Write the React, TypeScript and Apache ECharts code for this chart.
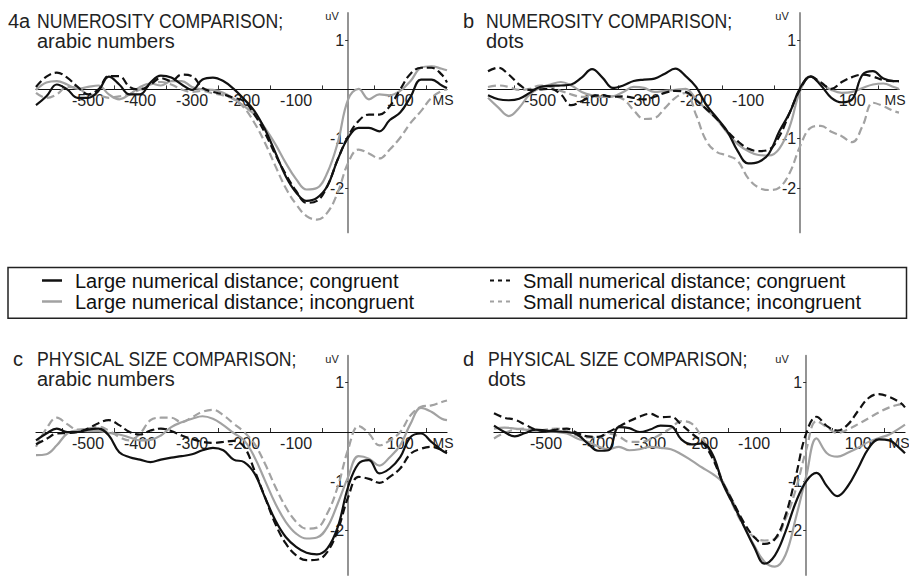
import React, { useEffect, useRef } from "react";
import * as echarts from "echarts";

// Time axis (ms, stimulus-locked) shared by every waveform
const TIME_MS = [
  -600, -580, -560, -540, -520, -500, -480, -460, -440, -420, -400, -380, -360, -340,
  -320, -300, -280, -260, -240, -220, -200, -180, -160, -140, -120, -100, -80, -60,
  -40, -20, 0, 20, 40, 60, 80, 100, 120, 140, 160, 180, 190,
];

// Condition names
const LC = "Large numerical distance; congruent";
const LI = "Large numerical distance; incongruent";
const SC = "Small numerical distance; congruent";
const SI = "Small numerical distance; incongruent";

// Axis ticks and labels
const X_LABELS = [-500, -400, -300, -200, -100, 100];
const X_TICKS = [-550, -450, -350, -250, -150, -50, 50, 150];
const Y_LABELS = [-2, -1, 1];

// a: numerosity comparison, arabic numbers (uV)
const aLC = [-0.32, -0.14, 0.1, 0, -0.17, -0.17, -0.03, 0.26, 0.1, -0.1, -0.1, 0.14, 0.28, 0.24, 0.1, -0.01, 0.2, 0.24, 0.17, 0.01, -0.2, -0.44, -0.81, -1.28, -1.76, -2.09, -2.26, -2.2, -1.96, -1.42, -0.98, -0.78, -0.78, -0.85, -0.62, -0.47, -0.15, 0.2, 0.2, 0.08, 0.03];
const aLI = [-0.01, 0.14, 0.17, 0.1, 0.01, 0.05, 0.08, -0.1, -0.2, -0.1, 0.05, 0.12, 0.08, 0.17, 0.17, 0.05, 0, -0.01, -0.07, -0.19, -0.34, -0.51, -0.78, -1.11, -1.49, -1.82, -2.03, -2.0, -1.69, -1.08, -0.2, 0.01, -0.2, -0.1, -0.12, -0.03, 0.17, 0.44, 0.47, 0.42, 0.39];
const aSC = [0.05, 0.26, 0.34, 0.24, 0.05, -0.1, 0, 0.27, 0.27, 0.05, 0, 0.1, 0.23, 0.17, 0.3, 0.27, 0.03, -0.05, -0.1, -0.17, -0.24, -0.51, -0.88, -1.32, -1.72, -2.06, -2.3, -2.26, -1.96, -1.42, -0.95, -0.64, -0.51, -0.51, -0.34, 0, 0.32, 0.44, 0.44, 0.3, 0.14];
const aSI = [-0.07, -0.17, -0.1, 0.05, 0.03, -0.1, -0.12, -0.17, -0.14, -0.1, 0, 0.1, 0.15, 0.1, 0, -0.05, -0.03, -0.08, -0.12, -0.2, -0.37, -0.68, -1.08, -1.55, -2.0, -2.33, -2.57, -2.64, -2.5, -2.09, -1.49, -1.22, -1.3, -1.4, -1.22, -0.98, -0.68, -0.44, -0.17, -0.03, 0];

// b: numerosity comparison, dots
const bLC = [-0.12, -0.2, -0.22, -0.19, -0.07, 0.05, 0.07, 0.08, 0.1, 0.24, 0.41, 0.24, 0.03, 0.08, 0.17, 0.2, 0.22, 0.32, 0.42, 0.27, 0.05, -0.32, -0.58, -0.85, -1.25, -1.5, -1.47, -1.3, -0.85, -0.47, 0.03, 0.26, 0.08, -0.17, -0.26, -0.2, 0.3, 0.37, 0.22, 0.17, 0.17];
const bLI = [-0.17, -0.37, -0.54, -0.37, -0.1, 0.03, 0.1, 0.15, 0.08, -0.05, -0.12, -0.15, -0.14, -0.05, 0.05, 0.03, -0.05, -0.03, -0.01, 0.01, -0.2, -0.41, -0.61, -0.88, -1.11, -1.25, -1.33, -1.34, -1.2, -0.75, -0.03, 0.27, 0.12, -0.01, -0.07, -0.05, 0.03, 0.1, 0.12, 0.05, 0.01];
const bSC = [0.37, 0.44, 0.3, 0.1, -0.01, 0, 0.01, -0.1, -0.32, -0.24, -0.14, -0.12, -0.15, -0.14, -0.17, -0.2, -0.15, -0.07, -0.03, -0.05, -0.22, -0.4, -0.6, -0.85, -1.05, -1.2, -1.25, -1.22, -0.95, -0.47, 0, 0.26, 0.14, 0.01, 0.15, 0.25, 0.3, 0.26, 0.19, 0.17, 0.17];
const bSI = [0.05, 0.08, 0.05, -0.01, 0.01, 0.08, 0.05, -0.03, -0.1, -0.15, -0.14, -0.15, -0.14, -0.2, -0.42, -0.6, -0.58, -0.38, -0.17, -0.07, -0.52, -1.05, -1.27, -1.34, -1.45, -1.8, -1.99, -2.04, -1.99, -1.69, -1.15, -0.78, -0.74, -0.86, -0.95, -1.07, -0.74, -0.27, -0.34, -0.44, -0.47];

// c: physical size comparison, arabic numbers
const cLC = [-0.17, -0.03, 0.07, 0, 0, 0.05, 0.07, -0.07, -0.41, -0.51, -0.56, -0.61, -0.56, -0.52, -0.49, -0.45, -0.37, -0.32, -0.37, -0.56, -0.61, -0.84, -1.32, -1.79, -2.13, -2.33, -2.45, -2.48, -2.36, -1.93, -1.11, -0.64, -0.57, -0.84, -0.74, -0.51, -0.1, -0.03, -0.2, -0.37, -0.43];
const cLI = [-0.47, -0.45, -0.27, -0.03, 0.03, 0.02, 0.02, -0.02, -0.05, -0.11, -0.17, -0.16, -0.07, 0.1, 0.2, 0.27, 0.32, 0.27, 0.14, -0.02, -0.17, -0.51, -0.98, -1.45, -1.82, -2.06, -2.16, -2.14, -1.93, -1.45, -0.91, -0.49, -0.54, -0.68, -0.51, -0.27, 0.17, 0.49, 0.41, 0.27, 0.24];
const cSC = [-0.25, -0.14, -0.03, -0.02, 0, 0.07, 0.18, 0.24, 0.14, 0, -0.05, 0.03, 0.07, 0.02, -0.07, -0.14, -0.2, -0.22, -0.2, -0.18, -0.3, -0.78, -1.32, -1.86, -2.26, -2.5, -2.6, -2.59, -2.43, -1.99, -1.32, -0.91, -0.95, -1.03, -0.91, -0.74, -0.44, -0.34, -0.3, -0.36, -0.39];
const cSI = [-0.3, 0.07, 0.29, 0.16, 0.05, 0.07, 0.11, 0.03, -0.1, -0.17, -0.03, 0.24, 0.29, 0.29, 0.2, 0.3, 0.41, 0.45, 0.34, 0.17, 0, -0.24, -0.64, -1.11, -1.52, -1.82, -1.96, -1.94, -1.65, -1.11, -0.35, 0.12, -0.03, -0.27, -0.17, 0, 0.34, 0.51, 0.54, 0.61, 0.64];

// d: physical size comparison, dots
const dLC = [0.13, 0, -0.09, -0.02, 0.05, 0.03, 0.01, 0, -0.05, -0.23, -0.38, -0.37, 0.1, 0.08, 0, 0.05, 0.13, 0.12, -0.15, -0.25, -0.23, -0.45, -1.05, -1.47, -1.9, -2.33, -2.67, -2.5, -2.03, -1.43, -1.0, -0.83, -1.1, -1.3, -1.1, -0.73, -0.33, -0.15, -0.17, -0.33, -0.43];
const dLI = [0.07, 0.09, 0.07, 0.05, 0.03, 0.02, 0, -0.03, -0.13, -0.2, -0.29, -0.35, -0.3, -0.37, -0.35, -0.3, -0.32, -0.35, -0.45, -0.58, -0.72, -0.85, -1.03, -1.43, -1.9, -2.3, -2.63, -2.73, -2.5, -1.75, -0.9, -0.13, -0.43, -0.5, -0.42, -0.32, -0.2, -0.12, -0.05, 0.08, 0.15];
const dSC = [0.38, 0.29, 0.25, 0.15, 0.05, 0.02, 0.05, 0.07, -0.02, -0.09, -0.1, 0, 0.11, 0.22, 0.31, 0.37, 0.3, 0.31, 0.15, -0.03, -0.2, -0.53, -1.03, -1.43, -1.83, -2.13, -2.27, -2.17, -1.7, -0.9, -0.03, 0.31, 0.12, 0.03, 0.15, 0.43, 0.69, 0.77, 0.71, 0.6, 0.5];
const dSI = [-0.13, -0.02, 0.05, 0.07, 0.03, 0.05, 0.07, 0.02, -0.07, -0.11, -0.11, -0.03, -0.09, -0.2, -0.2, -0.15, -0.05, 0.08, 0.22, 0.17, -0.12, -0.5, -1.0, -1.5, -1.9, -2.13, -2.2, -2.17, -1.77, -1.17, -0.37, 0.22, 0.1, -0.02, 0.05, 0.16, 0.28, 0.4, 0.5, 0.56, 0.58];

const PANELS = [
  { prefix: "4a", title: "NUMEROSITY COMPARISON;", sub: "arabic numbers", LC: aLC, LI: aLI, SC: aSC, SI: aSI },
  { prefix: "b", title: "NUMEROSITY COMPARISON;", sub: "dots", LC: bLC, LI: bLI, SC: bSC, SI: bSI },
  { prefix: "c", title: "PHYSICAL SIZE COMPARISON;", sub: "arabic numbers", LC: cLC, LI: cLI, SC: cSC, SI: cSI },
  { prefix: "d", title: "PHYSICAL SIZE COMPARISON;", sub: "dots", LC: dLC, LI: dLI, SC: dSC, SI: dSI },
];

const FONT = '"Liberation Sans", Arial, sans-serif';
const BLACK = "#111111";
const GRAY = "#a2a2a2";
const DASH = [8, 4];

// Panel frames (pixels) and where their labels sit
const GRID_W = 411;
const GRID_H = 219.4;
const FRAMES = [
  { left: 36, top: 13, prefixX: 8, titleX: 37, titleY: 21, uvX: 332, msX: 443 },
  { left: 488, top: 13, prefixX: 463, titleX: 486, titleY: 21, uvX: 782, msX: 895 },
  { left: 36, top: 355.6, prefixX: 13, titleX: 37, titleY: 359, uvX: 332, msX: 443 },
  { left: 494, top: 355.6, prefixX: 463, titleX: 488, titleY: 359, uvX: 782, msX: 899 },
];
const X_MIN = -600;
const X_MAX = 190;
const Y_MIN = -2.9;
const Y_MAX = 1.55;

// Shift the axes from the frame edges onto the zero lines
const X_AXIS_SHIFT = -GRID_H * (0 - Y_MIN) / (Y_MAX - Y_MIN);
const Y_AXIS_SHIFT = -GRID_W * (0 - X_MIN) / (X_MAX - X_MIN);
const ZERO_Y = GRID_H * (Y_MAX - 0) / (Y_MAX - Y_MIN);

// Legend swatches
const SOLID_ICON = "rect";
const DOTTED_ICON = "path://M0,0h4v2h-4z M8,0h4v2h-4z M16,0h4v2h-4z";

function pairs(vals: number[]) {
  return TIME_MS.map((t, k) => [t, vals[k]]);
}

function buildOption() {
  const grid: any[] = [];
  const xAxis: any[] = [];
  const yAxis: any[] = [];
  const series: any[] = [];
  const graphic: any[] = [];

  PANELS.forEach((p, i) => {
    const f = FRAMES[i];
    grid.push({ left: f.left, top: f.top, width: GRID_W, height: GRID_H });
    xAxis.push({
      type: "value",
      gridIndex: i,
      min: X_MIN,
      max: X_MAX,
      position: "bottom",
      offset: X_AXIS_SHIFT,
      axisLine: { onZero: false, lineStyle: { color: "#111", width: 1.2 } },
      axisTick: { show: true, inside: true, length: 4, customValues: X_TICKS, lineStyle: { color: "#333", width: 1 } },
      axisLabel: { customValues: X_LABELS, margin: 3, fontSize: 16, fontFamily: FONT, color: "#222" },
      splitLine: { show: false },
    });
    yAxis.push({
      type: "value",
      gridIndex: i,
      min: Y_MIN,
      max: Y_MAX,
      position: "left",
      offset: Y_AXIS_SHIFT,
      axisLine: { show: true, onZero: false, lineStyle: { color: "#888", width: 1.8 } },
      axisTick: { show: true, length: 3, customValues: Y_LABELS, lineStyle: { color: "#333", width: 1 } },
      axisLabel: { customValues: Y_LABELS, margin: 4, fontSize: 16, fontFamily: FONT, color: "#222" },
      splitLine: { show: false },
    });

    const lines = [
      { name: SI, vals: p.SI, color: GRAY, type: DASH, z: 2 },
      { name: LI, vals: p.LI, color: GRAY, type: "solid", z: 3 },
      { name: SC, vals: p.SC, color: BLACK, type: DASH, z: 4 },
      { name: LC, vals: p.LC, color: BLACK, type: "solid", z: 5 },
    ];
    lines.forEach((l) => {
      series.push({
        type: "line",
        name: l.name,
        xAxisIndex: i,
        yAxisIndex: i,
        data: pairs(l.vals),
        symbol: "none",
        showSymbol: false,
        smooth: 0.4,
        z: l.z,
        lineStyle: { color: l.color, width: 2.2, type: l.type },
        itemStyle: { color: l.color },
      });
    });

    const textBase = { fontFamily: FONT, fill: "#222", textVerticalAlign: "middle" };
    graphic.push(
      { type: "text", x: f.prefixX, y: f.titleY, style: { ...textBase, text: p.prefix, fontSize: 20, textAlign: "left" } },
      { type: "text", x: f.titleX, y: f.titleY, scaleX: 0.86, style: { ...textBase, text: p.title, fontSize: 20.5, textAlign: "left" } },
      { type: "text", x: f.titleX, y: f.titleY + 20, style: { ...textBase, text: p.sub, fontSize: 20, textAlign: "left" } },
      { type: "text", x: f.uvX, y: f.top + 3, style: { ...textBase, text: "uV", fontSize: 11, textAlign: "center" } },
      { type: "text", x: f.msX, y: f.top + ZERO_Y + 11, style: { ...textBase, text: "MS", fontSize: 14, textAlign: "center" } }
    );
  });

  // Legend frame
  graphic.push({
    type: "rect",
    shape: { x: 8, y: 267.5, width: 898.5, height: 50.8 },
    style: { fill: "none", stroke: "#222", lineWidth: 1.5 },
    silent: true,
  });

  const legendBase = {
    orient: "vertical",
    top: 270,
    itemWidth: 20,
    itemHeight: 2.5,
    itemGap: 0,
    padding: 0,
    selectedMode: false,
    textStyle: { fontSize: 20, fontFamily: FONT, color: "#111", lineHeight: 21, padding: [0, 0, 0, 8] },
  };

  return {
    backgroundColor: "#ffffff",
    animation: false,
    textStyle: { fontFamily: FONT },
    grid,
    xAxis,
    yAxis,
    series,
    graphic,
    legend: [
      { ...legendBase, left: 42, data: [{ name: LC, icon: SOLID_ICON }, { name: LI, icon: SOLID_ICON }] },
      { ...legendBase, left: 490, data: [{ name: SC, icon: DOTTED_ICON }, { name: SI, icon: DOTTED_ICON }] },
    ],
  };
}

export default function App() {
  const ref = useRef<HTMLDivElement>(null);
  useEffect(() => {
    if (!ref.current) return;
    const chart = echarts.init(ref.current, undefined, { renderer: "svg" });
    chart.setOption(buildOption() as any);
    return () => chart.dispose();
  }, []);
  return <div ref={ref} style={{ position: "absolute", left: 0, top: 0, width: 909, height: 576 }} />;
}
